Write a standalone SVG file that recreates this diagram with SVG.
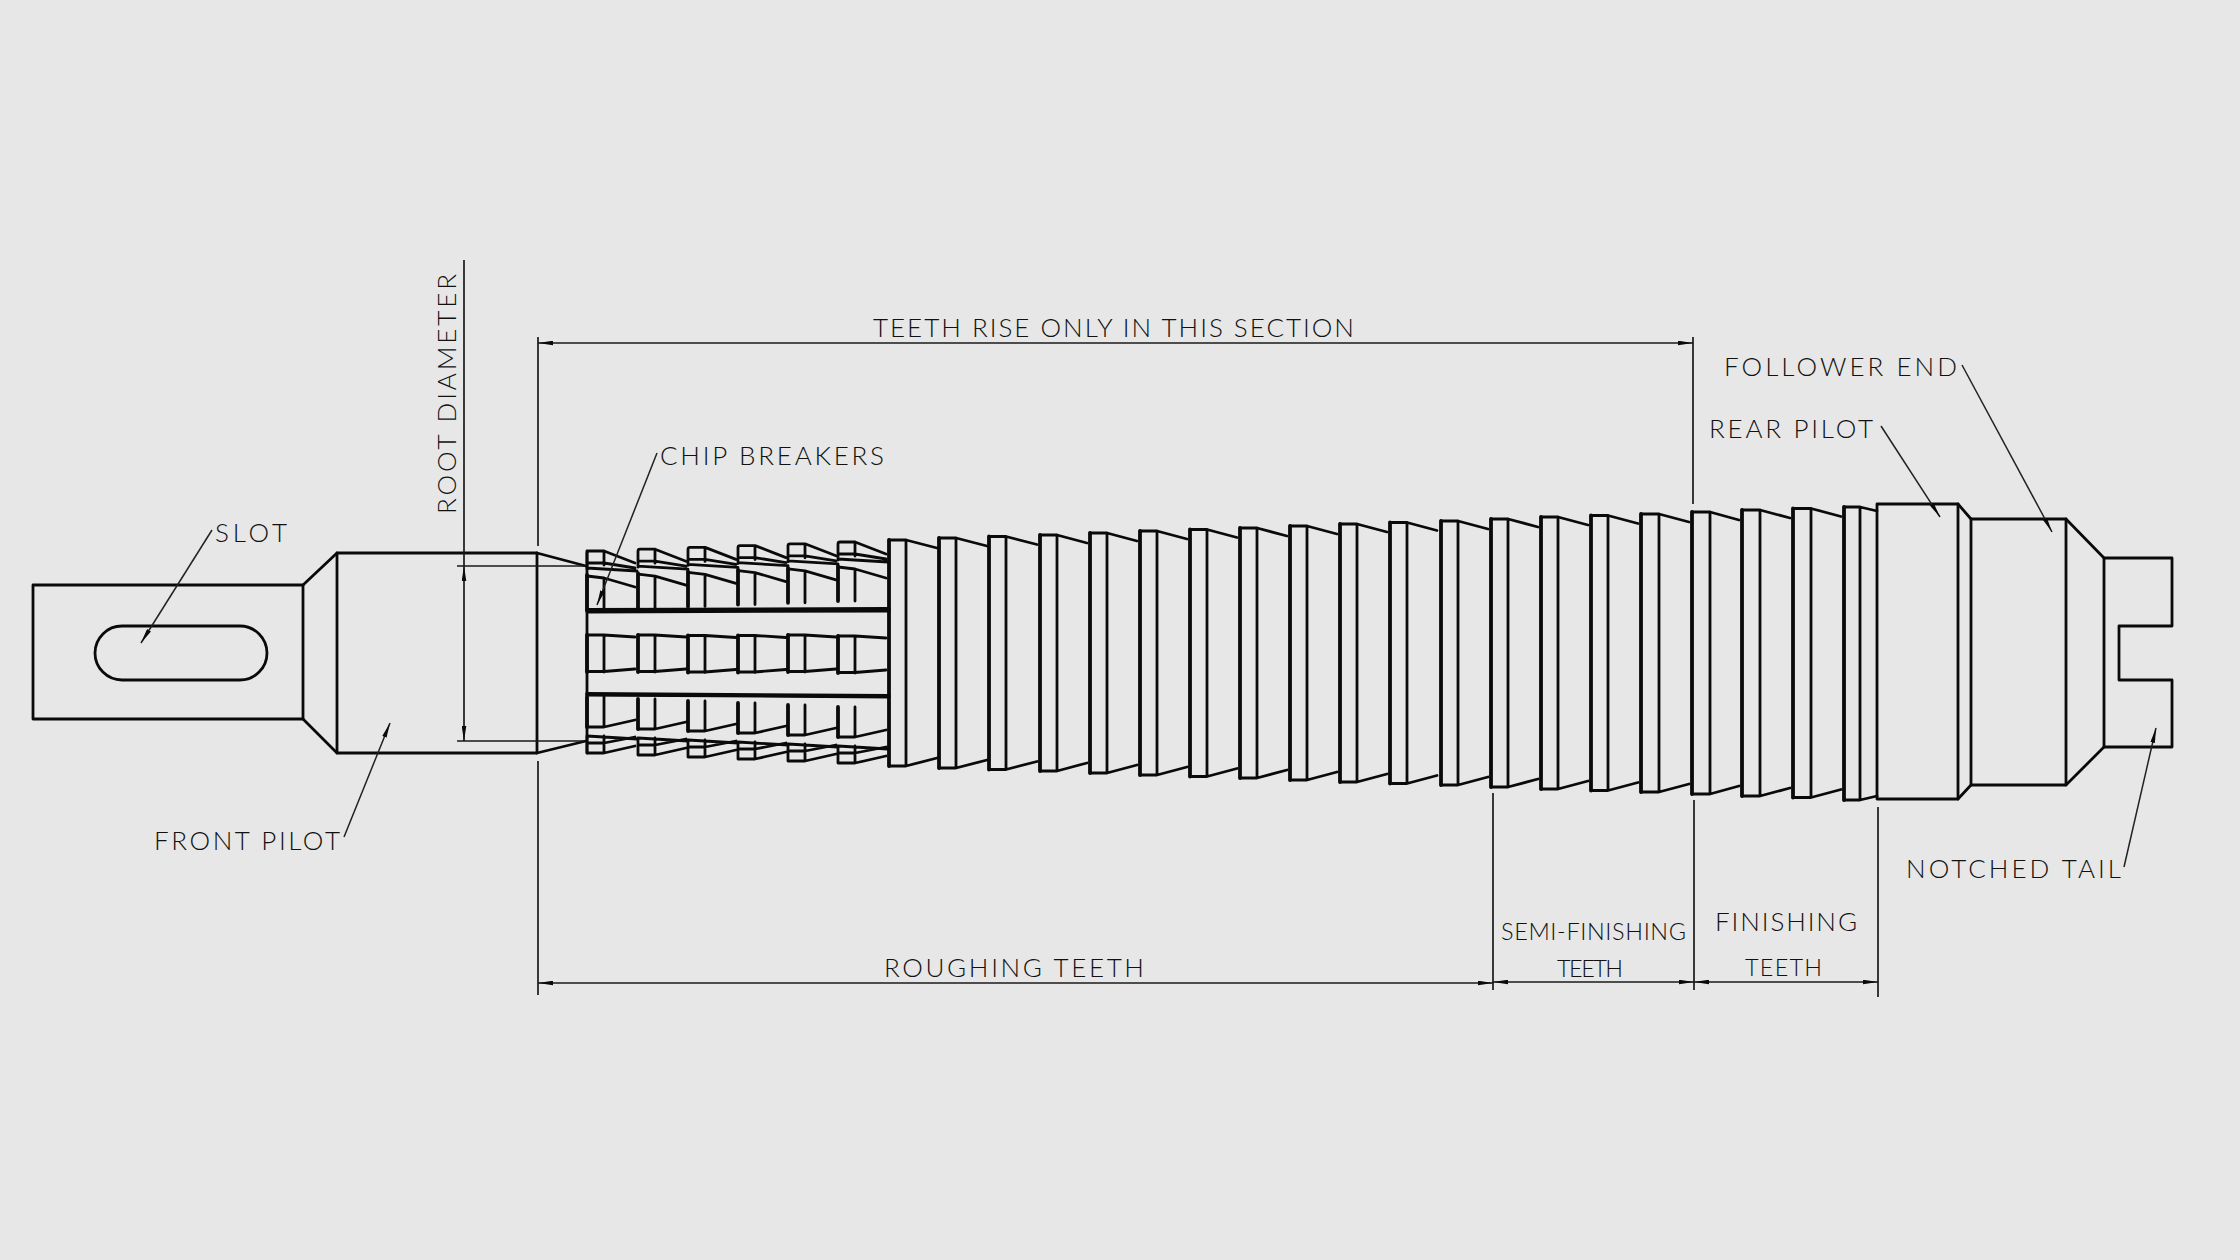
<svg xmlns="http://www.w3.org/2000/svg" xmlns:xlink="http://www.w3.org/1999/xlink" width="2240" height="1260" viewBox="0 0 2240 1260">
<style>
.o{fill:none;stroke:#0a0a0a;stroke-width:2.8;stroke-linejoin:round;stroke-linecap:round}
.t{fill:none;stroke:#0a0a0a;stroke-width:3.8;stroke-linejoin:round;stroke-linecap:round}
.d{fill:none;stroke:#1a1a1a;stroke-width:1.7}
.l{fill:none;stroke:#222;stroke-width:1.5}
text{font-family:"Lato","Liberation Sans",Arial,sans-serif;font-weight:300;font-size:26px;fill:#111}
.s{font-size:23.500px}
</style>
<defs>
<marker id="arrow" viewBox="0 0 15 5" refX="15" refY="2.5" markerWidth="15" markerHeight="5" markerUnits="userSpaceOnUse" orient="auto-start-reverse"><path d="M0,0.2 L15,2.5 L0,4.8 Z" fill="#0a0a0a"/></marker>
<g id="chipU">
<path class="t" d="M0,575 V610"/>
<path class="o" d="M0,569 V553 Q0,551 2,551 H17 L48,563 M17,551 V565 M0,563 H17 L48,568 M0,568 L50,571 M0,576 L17,578 L48,587 M17,578 V610"/>
</g>
<g id="chipM">
<path class="t" d="M0,635 V672"/>
<path class="o" d="M0,635 H17 L48,637 M0,671.500 H17 L48,669 M17,635 V672"/>
</g>
<g id="chipL">
<path class="t" d="M0,697 V727"/>
<path class="o" d="M0,727 H17 L48,720 M17,697 V727 M0,736 L50,739 M0,743 H17 L48,737 M0,753 H17 L48,746 M0,736 V753 M17,736 V753"/>
</g>
</defs>
<rect width="2240" height="1260" fill="#e7e7e7"/>

<g id="slotted-end">
<path class="o" d="M33,585 H303 V719 H33 Z"/>
<rect class="o" x="95" y="626" width="172" height="54" rx="27" ry="27"/>
<path class="o" d="M303,585 L337,553 M303,719 L337,753"/>
</g>

<g id="front-pilot">
<path class="o" d="M337,553 H537 V753 H337 Z"/>
<path class="o" d="M537,553 L586,566 M537,753 L586,741"/>
</g>

<g id="chip-breaker-teeth">
<path class="o" d="M587,551 V753"/>
<path class="o" d="M587,612 L889,611 M587,695 L889,697"/>
<path class="t" d="M587,610 L889,609 M587,694 L889,696"/>
<use href="#chipU" x="587" y="0"/><use href="#chipU" x="638" y="-1.800"/><use href="#chipU" x="688" y="-3.600"/><use href="#chipU" x="738" y="-5.400"/><use href="#chipU" x="788" y="-7.200"/><use href="#chipU" x="838" y="-9"/>
<use href="#chipM" x="587" y="0"/><use href="#chipM" x="638" y="0"/><use href="#chipM" x="688" y="0.500"/><use href="#chipM" x="738" y="0.500"/><use href="#chipM" x="788" y="0"/><use href="#chipM" x="838" y="1"/>
<use href="#chipL" x="587" y="0"/><use href="#chipL" x="638" y="2"/><use href="#chipL" x="688" y="4"/><use href="#chipL" x="738" y="6"/><use href="#chipL" x="788" y="8"/><use href="#chipL" x="838" y="10"/>
</g>

<g id="roughing-teeth">
<path class="t" d="M889,766 V540 M939,768 V538 M989,769.500 V536.500 M1040,771 V535 M1090,773 V533 M1140,775 V531 M1190,776.500 V529.500 M1240,778 V528 M1290,780 V526 M1340,782 V524 M1390,783.500 V522.500 M1441,785 V521"/>
<path class="o" d="M889,540 H906 L937,548 M906,540 V766 M889,766 H906 L937,758"/>
<path class="o" d="M939,538 H956 L987,546 M956,538 V768 M939,768 H956 L987,760"/>
<path class="o" d="M989,536.500 H1006 L1037,544.500 M1006,536.500 V769.500 M989,769.500 H1006 L1037,761.500"/>
<path class="o" d="M1040,535 H1057 L1087,543 M1057,535 V771 M1040,771 H1057 L1087,763"/>
<path class="o" d="M1090,533 H1107 L1137,541 M1107,533 V773 M1090,773 H1107 L1137,765"/>
<path class="o" d="M1140,531 H1157 L1187,539 M1157,531 V775 M1140,775 H1157 L1187,767"/>
<path class="o" d="M1190,529.500 H1207 L1237,537.500 M1207,529.500 V776.500 M1190,776.500 H1207 L1237,768.500"/>
<path class="o" d="M1240,528 H1257 L1287,536 M1257,528 V778 M1240,778 H1257 L1287,770"/>
<path class="o" d="M1290,526 H1307 L1337,534 M1307,526 V780 M1290,780 H1307 L1337,772"/>
<path class="o" d="M1340,524 H1357 L1387,532 M1357,524 V782 M1340,782 H1357 L1387,774"/>
<path class="o" d="M1390,522.500 H1407 L1437,530.500 M1407,522.500 V783.500 M1390,783.500 H1407 L1437,775.500"/>
<path class="o" d="M1441,521 H1458 L1488,529 M1458,521 V785 M1441,785 H1458 L1488,777"/>
</g>

<g id="semi-finishing-teeth">
<path class="t" d="M1491,787 V519 M1541,789 V517 M1591,790.500 V515.500 M1641,792 V514"/>
<path class="o" d="M1491,519 H1508 L1538,527 M1508,519 V787 M1491,787 H1508 L1538,779"/>
<path class="o" d="M1541,517 H1558 L1588,525 M1558,517 V789 M1541,789 H1558 L1588,781"/>
<path class="o" d="M1591,515.500 H1608 L1638,523.500 M1608,515.500 V790.500 M1591,790.500 H1608 L1638,782.500"/>
<path class="o" d="M1641,514 H1659 L1689,522 M1659,514 V792 M1641,792 H1659 L1689,784"/>
</g>

<g id="finishing-teeth">
<path class="t" d="M1692,794 V512 M1742,796 V510 M1793,797.500 V508.500 M1844,800 V507"/>
<path class="o" d="M1692,512 H1710 L1739,520 M1710,512 V794 M1692,794 H1710 L1739,786"/>
<path class="o" d="M1742,510 H1760 L1790,518 M1760,510 V796 M1742,796 H1760 L1790,788"/>
<path class="o" d="M1793,508.500 H1811 L1841,516.500 M1811,508.500 V797.500 M1793,797.500 H1811 L1841,789.500"/>
<path class="o" d="M1844,507 H1860 L1877,511 M1860,507 V800 M1844,800 H1860 L1877,796"/>
</g>

<g id="rear-pilot">
<path class="o" d="M1877,504 H1958 V799 H1877 Z"/>
<path class="o" d="M1958,504 L1971,519 M1958,799 L1971,785"/>
</g>

<g id="follower-end">
<path class="o" d="M1971,519 H2066 V785 H1971 Z"/>
<path class="o" d="M2066,519 L2104,558 M2066,785 L2104,747"/>
</g>

<g id="notched-tail">
<path class="o" d="M2104,558 H2172 V626 H2119 V680 H2172 V747 H2104 Z"/>
</g>

<g id="connectors">
<path class="d" d="M538,337 V546 M538,761 V995 M1693,337 V504 M1493,793 V990 M1694,800 V990 M1878,807 V997"/>
<path class="d" marker-start="url(#arrow)" marker-end="url(#arrow)" d="M538,343 H1693"/>
<path class="d" marker-start="url(#arrow)" marker-end="url(#arrow)" d="M538,983 H1493"/>
<path class="d" marker-start="url(#arrow)" marker-end="url(#arrow)" d="M1493,982 H1694"/>
<path class="d" marker-start="url(#arrow)" marker-end="url(#arrow)" d="M1694,982 H1878"/>
<path class="d" d="M464,260 V566 M457,566 H584 M457,741 H584"/>
<path class="d" marker-start="url(#arrow)" marker-end="url(#arrow)" d="M464,566 V741"/>
<path class="l" marker-end="url(#arrow)" d="M212,530 L141,643"/>
<path class="l" marker-end="url(#arrow)" d="M344,837 L390,723"/>
<path class="l" marker-end="url(#arrow)" d="M657,453 L597,605"/>
<path class="l" marker-end="url(#arrow)" d="M1962,365 L2052,532"/>
<path class="l" marker-end="url(#arrow)" d="M1881,426 L1940,517"/>
<path class="l" marker-end="url(#arrow)" d="M2124,867 L2156,728"/>
</g>

<g id="labels">
<text x="215" y="542" textLength="72">SLOT</text>
<text x="154" y="850" textLength="186">FRONT PILOT</text>
<text x="456" y="514" transform="rotate(-90 456 514)" textLength="240">ROOT DIAMETER</text>
<text x="873" y="337" textLength="481">TEETH RISE ONLY IN THIS SECTION</text>
<text x="660" y="465" textLength="224">CHIP BREAKERS</text>
<text x="1724" y="376" textLength="233">FOLLOWER END</text>
<text x="1709" y="438" textLength="164">REAR PILOT</text>
<text x="1906" y="878" textLength="215">NOTCHED TAIL</text>
<text x="884" y="977" textLength="260">ROUGHING TEETH</text>
<text class="s" x="1501" y="940" textLength="185">SEMI-FINISHING</text>
<text class="s" x="1557" y="977" textLength="66">TEETH</text>
<text x="1715" y="931" textLength="142">FINISHING</text>
<text class="s" x="1745" y="976" textLength="77">TEETH</text>
</g>
</svg>
